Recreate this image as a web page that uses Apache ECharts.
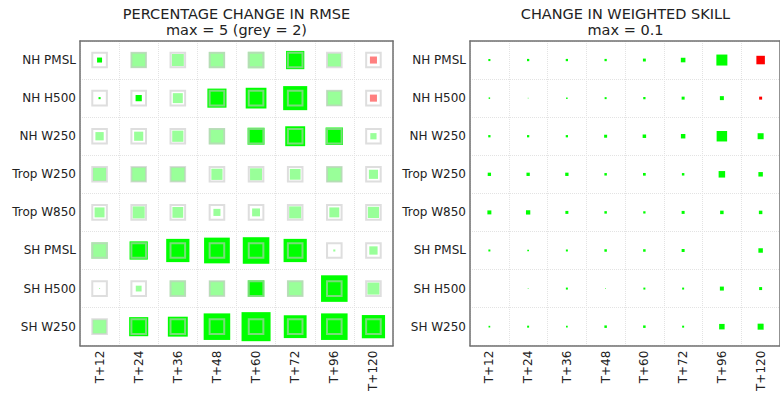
<!DOCTYPE html>
<html>
<head>
<meta charset="utf-8">
<script src="https://cdn.jsdelivr.net/npm/echarts@6/dist/echarts.min.js"></script>
<style>
  html, body { margin: 0; padding: 0; background: #fff; }
  #chart { width: 780px; height: 394px; }
</style>
</head>
<body>
<div id="chart"></div>
<script>
// Forecast lead times (columns) and verification fields (rows)
const leadTimes = ['T+12', 'T+24', 'T+36', 'T+48', 'T+60', 'T+72', 'T+96', 'T+120'];
const fields = ['NH PMSL', 'NH H500', 'NH W250', 'Trop W250', 'Trop W850', 'SH PMSL', 'SH H500', 'SH W250'];

// Percentage change in RMSE (negative = reduced error), one row per field
const rmseChange = [
  [-0.6, -1.9, -1.45, -1.95, -2.0, -2.2, -1.6, 0.85],
  [-0.25, -0.75, -1.2, -2.3, -2.5, -2.9, -1.9, 0.85],
  [-1.0, -1.1, -1.35, -1.95, -2.05, -2.4, -2.1, -0.75],
  [-1.6, -1.8, -1.8, -1.35, -1.45, -1.3, -1.9, -1.1],
  [-1.2, -1.45, -1.3, -0.85, -0.95, -1.45, -1.2, -1.35],
  [-2.0, -2.2, -2.8, -3.1, -3.2, -2.8, -0.25, -1.0],
  [-0.12, -0.7, -1.95, -1.9, -2.0, -1.95, -3.2, -1.45],
  [-1.7, -2.3, -2.4, -3.2, -3.5, -2.75, -3.2, -2.8]
];
// 1 = statistically significant change
const rmseSignificant = [
  [1, 0, 0, 0, 0, 1, 0, 0],
  [1, 1, 0, 1, 1, 1, 0, 0],
  [0, 0, 0, 0, 1, 1, 1, 0],
  [0, 0, 0, 0, 0, 0, 0, 0],
  [0, 0, 0, 0, 0, 0, 0, 0],
  [0, 1, 1, 1, 1, 1, 0, 0],
  [0, 0, 0, 0, 1, 0, 1, 0],
  [0, 1, 1, 1, 1, 1, 1, 1]
];
// Change in weighted skill (positive = improvement)
const skillChange = [
  [0.005, 0.0055, 0.0055, 0.0055, 0.007, 0.011, 0.0265, -0.0205],
  [0.0036, 0.0017, 0.0036, 0.0048, 0.0055, 0.0072, 0.0096, -0.0072],
  [0.0055, 0.0055, 0.0055, 0.0072, 0.0084, 0.0108, 0.0253, 0.0145],
  [0.008, 0.008, 0.008, 0.006, 0.0065, 0.006, 0.0157, 0.0108],
  [0.0096, 0.0104, 0.0072, 0.006, 0.0055, 0.0072, 0.0084, 0.0084],
  [0.0048, 0.0041, 0.0048, 0.006, 0.006, 0.0072, 0, 0.0108],
  [0, 0.0017, 0.0048, 0.0017, 0.0048, 0.0048, 0.0096, 0.0072],
  [0.0041, 0.0048, 0.0041, 0.006, 0.006, 0.0048, 0.0132, 0.0145]
];

const rmseMax = 5;      // symbol scale maximum for RMSE panel
const rmseGrey = 2;     // reference square value
const skillMax = 0.1;   // symbol scale maximum for skill panel
const fullSide = 41.5;  // symbol side (px) at the scale maximum

const FONT = 'DejaVu Sans';
const TEXT = '#222';
const FRAME = '#6f6f6f';
const GRIDLINE = '#e3e3e3';

function cells(matrix, extra) {
  const out = [];
  matrix.forEach((row, r) => row.forEach((v, c) => {
    out.push([c, r, v, extra ? extra[r][c] : 1]);
  }));
  return out;
}

const rmseData = cells(rmseChange, rmseSignificant);
const skillData = cells(skillChange);
const greyData = rmseData.map(d => [d[0], d[1], rmseGrey]);

function gridCfg(left, width) {
  return { left: left, top: 41, width: width, height: 312, containLabel: false };
}
const frameLine = { show: true, lineStyle: { color: FRAME, width: 1.5 } };
const dotted = { show: true, lineStyle: { color: GRIDLINE, type: 'dotted', width: 1 } };

function xAxisCfg(i) {
  return {
    type: 'category', gridIndex: i, data: leadTimes, position: 'bottom',
    axisTick: { show: false }, axisLine: frameLine, splitLine: dotted,
    axisLabel: { rotate: 90, fontSize: 12, color: TEXT, fontFamily: FONT, margin: 5, interval: 0 }
  };
}
function xTopCfg(i) {
  return {
    type: 'category', gridIndex: i, data: leadTimes, position: 'top',
    axisTick: { show: false }, axisLine: frameLine, splitLine: { show: false },
    axisLabel: { show: false }
  };
}
function yAxisCfg(i) {
  return {
    type: 'category', gridIndex: i, data: fields, inverse: true, position: 'left',
    axisTick: { show: false }, axisLine: frameLine, splitLine: dotted,
    axisLabel: { fontSize: 12, color: TEXT, fontFamily: FONT, margin: 4, interval: 0 }
  };
}
function yRightCfg(i) {
  return {
    type: 'category', gridIndex: i, data: fields, inverse: true, position: 'right',
    axisTick: { show: false }, axisLine: frameLine, splitLine: { show: false },
    axisLabel: { show: false }
  };
}
function titleCfg(text, cx) {
  return {
    text: text, left: cx, top: 6, textAlign: 'center', padding: 0,
    textStyle: { fontSize: 14.5, fontWeight: 'normal', color: TEXT, fontFamily: FONT, lineHeight: 16 }
  };
}

const chart = echarts.init(document.getElementById('chart'), null, { renderer: 'svg' });
chart.setOption({
  animation: false,
  backgroundColor: '#fff',
  title: [
    titleCfg('PERCENTAGE CHANGE IN RMSE\nmax = 5 (grey = 2)', 236.5),
    titleCfg('CHANGE IN WEIGHTED SKILL\nmax = 0.1', 625.5)
  ],
  grid: [gridCfg(80, 313), gridCfg(470, 311)],
  xAxis: [xAxisCfg(0), xTopCfg(0), xAxisCfg(1), xTopCfg(1)],
  yAxis: [yAxisCfg(0), yRightCfg(0), yAxisCfg(1), yRightCfg(1)],
  series: [
    {
      type: 'scatter', xAxisIndex: 0, yAxisIndex: 0, symbol: 'rect',
      data: rmseData,
      symbolSize: v => Math.min(Math.abs(v[2]), rmseMax) / rmseMax * fullSide,
      itemStyle: {
        opacity: 1,
        color: p => {
          const v = p.value[2], sig = p.value[3];
          if (v <= 0) return sig ? '#00ff00' : '#99ff99';
          return sig ? '#ff0000' : '#ff8080';
        }
      },
      emphasis: { disabled: true }, silent: true, z: 2
    },
    {
      type: 'scatter', xAxisIndex: 0, yAxisIndex: 0, symbol: 'rect',
      data: greyData,
      symbolSize: v => v[2] / rmseMax * fullSide - 2,
      itemStyle: { color: 'transparent', borderColor: 'rgba(200,200,200,0.6)', borderWidth: 2, opacity: 1 },
      emphasis: { disabled: true }, silent: true, z: 3
    },
    {
      type: 'scatter', xAxisIndex: 2, yAxisIndex: 2, symbol: 'rect',
      data: skillData,
      symbolSize: v => Math.min(Math.abs(v[2]), skillMax) / skillMax * fullSide,
      itemStyle: {
        opacity: 1,
        color: p => (p.value[2] >= 0 ? '#00ff00' : '#ff0000')
      },
      emphasis: { disabled: true }, silent: true, z: 2
    }
  ]
});
</script>
</body>
</html>
